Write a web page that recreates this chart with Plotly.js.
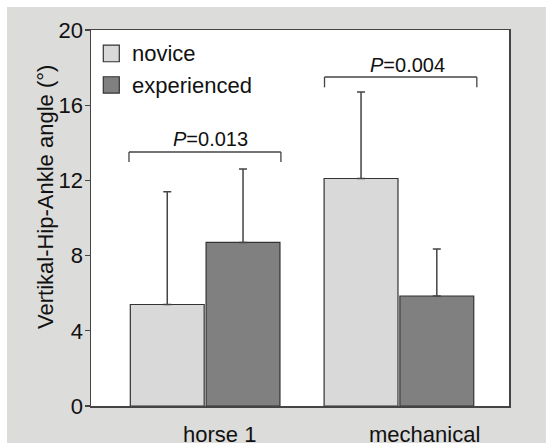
<!DOCTYPE html>
<html>
<head>
<meta charset="utf-8">
<script src="https://cdn.plot.ly/plotly-3.0.1.min.js"></script>
<style>
html,body{margin:0;padding:0;background:#ffffff;}
#chart{position:absolute;left:7px;top:7px;width:539px;height:436px;}
</style>
</head>
<body>
<div id="chart"></div>
<script>
var categories = ["horse 1", "mechanical"];
var seriesNames = ["novice", "experienced"];
var noviceMean = [5.4, 12.1];
var noviceSD = [6.0, 4.6];
var experiencedMean = [8.7, 5.85];
var experiencedSD = [3.9, 2.5];
var pLabels = ["=0.013", "=0.004"];
var yTicks = [0, 4, 8, 12, 16, 20];

var FONT = "Arial, 'Liberation Sans', sans-serif";
var colors = ["#d9d9d9", "#808080"];

function barTrace(name, x, y, err, color) {
  return {
    type: "bar", name: name, x: x, y: y,
    marker: {color: color, line: {color: "#333333", width: 1.2}},
    error_y: {type: "data", array: err, arrayminus: err.map(function(){return 0;}),
              symmetric: false, color: "#444444", thickness: 1.5, width: 4},
    showlegend: false, hoverinfo: "y"
  };
}

var data = [
  barTrace(seriesNames[0], categories, noviceMean, noviceSD, colors[0]),
  barTrace(seriesNames[1], categories, experiencedMean, experiencedSD, colors[1])
];

function bracket(x0, x1, y0, y1) {
  var st = {type: "line", xref: "x", yref: "y", line: {color: "#444444", width: 1.3}};
  return [
    Object.assign({}, st, {x0: x0, x1: x0, y0: y1, y1: y0}),
    Object.assign({}, st, {x0: x0, x1: x1, y0: y0, y1: y0}),
    Object.assign({}, st, {x0: x1, x1: x1, y0: y0, y1: y1})
  ];
}

var shapes = [].concat(
  bracket(-0.393, 0.391, 13.51, 12.98),
  bracket(0.616, 1.402, 17.5, 16.95),
  [
    {type: "rect", xref: "paper", yref: "paper", x0: 0.0294, x1: 0.0677, y0: 0.9156, y1: 0.960,
     fillcolor: colors[0], line: {color: "#333333", width: 1.2}},
    {type: "rect", xref: "paper", yref: "paper", x0: 0.0294, x1: 0.0677, y0: 0.8323, y1: 0.8757,
     fillcolor: colors[1], line: {color: "#333333", width: 1.2}}
  ]
);

var annotations = [
  {xref: "paper", yref: "paper", x: 0.094, y: 0.938, xanchor: "left", yanchor: "middle",
   text: seriesNames[0], showarrow: false, font: {family: FONT, size: 22, color: "#111"}},
  {xref: "paper", yref: "paper", x: 0.094, y: 0.8536, xanchor: "left", yanchor: "middle",
   text: seriesNames[1], showarrow: false, font: {family: FONT, size: 22, color: "#111"}},
  {xref: "x", yref: "y", x: 0.03, y: 13.5, xanchor: "center", yanchor: "bottom",
   text: "<i>P</i>" + pLabels[0], showarrow: false, font: {family: FONT, size: 20, color: "#111"}},
  {xref: "x", yref: "y", x: 1.045, y: 17.45, xanchor: "center", yanchor: "bottom",
   text: "<i>P</i>" + pLabels[1], showarrow: false, font: {family: FONT, size: 20, color: "#111"}},
  {xref: "x", yref: "paper", x: categories[0], xshift: 14, y: -0.037, xanchor: "center", yanchor: "top",
   text: categories[0], showarrow: false, font: {family: FONT, size: 22, color: "#111"}},
  {xref: "x", yref: "paper", x: categories[1], xshift: 26, y: -0.037, xanchor: "center", yanchor: "top",
   text: categories[1], showarrow: false, font: {family: FONT, size: 22, color: "#111"}},
  {xref: "paper", yref: "paper", x: -0.109, y: 0.557, xanchor: "center", yanchor: "middle",
   textangle: -90, text: "Vertikal-Hip-Ankle angle (°)", showarrow: false,
   font: {family: FONT, size: 22, color: "#111"}}
];

var layout = {
  width: 539, height: 436,
  margin: {l: 84, r: 37, t: 23, b: 37, pad: 0},
  paper_bgcolor: "#dcdcda",
  plot_bgcolor: "#ffffff",
  barmode: "group",
  bargap: 0.218,
  bargroupgap: 0.025,
  showlegend: false,
  font: {family: FONT, color: "#111"},
  xaxis: {
    type: "category", range: [-0.589, 1.568],
    showticklabels: false, ticks: "", showgrid: false, zeroline: false,
    showline: true, linecolor: "#444444", linewidth: 1.5, mirror: true, fixedrange: true
  },
  yaxis: {
    range: [0, 20], tickvals: yTicks, ticktext: yTicks.map(String),
    ticks: "outside", ticklen: 5, tickwidth: 1.3, tickcolor: "#444444",
    ticklabelstandoff: -3,
    tickfont: {family: FONT, size: 22, color: "#111"},
    showgrid: false, zeroline: false,
    showline: true, linecolor: "#444444", linewidth: 1.5, mirror: true, fixedrange: true
  },
  shapes: shapes,
  annotations: annotations
};

Plotly.newPlot("chart", data, layout, {displayModeBar: false, staticPlot: true});
</script>
</body>
</html>
